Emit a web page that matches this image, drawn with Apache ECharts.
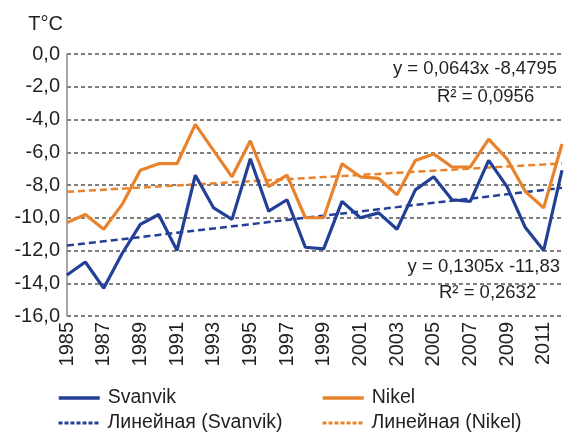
<!DOCTYPE html>
<html>
<head>
<meta charset="utf-8">
<script src="https://cdn.jsdelivr.net/npm/echarts@6/dist/echarts.min.js"></script>
<style>
  html, body { margin: 0; padding: 0; background: #fff; }
  #main { width: 568px; height: 432px; }
</style>
</head>
<body>
<div id="main"></div>
<script>
// years on the x axis
var years = ['1985','1986','1987','1988','1989','1990','1991','1992','1993','1994',
             '1995','1996','1997','1998','1999','2000','2001','2002','2003','2004',
             '2005','2006','2007','2008','2009','2010','2011','2012'];

// mean annual temperature
var svanvik = [-13.5,-12.7,-14.3,-12.2,-10.4,-9.8,-12.0,-7.4,-9.4,-10.1,
               -6.4,-9.6,-8.9,-11.8,-11.9,-9.0,-10.0,-9.7,-10.7,-8.3,
               -7.5,-8.9,-9.0,-6.5,-8.1,-10.6,-12.0,-7.1];
var nikel   = [-10.3,-9.8,-10.7,-9.2,-7.1,-6.7,-6.7,-4.3,-5.9,-7.5,
               -5.3,-8.1,-7.4,-10.0,-10.0,-6.7,-7.5,-7.6,-8.6,-6.5,
               -6.1,-6.9,-6.9,-5.2,-6.4,-8.4,-9.4,-5.5];

// linear trend coefficients as printed on the chart (x = 1..28)
var svanvikTrend = { slope: 0.1305, intercept: -11.83 };
var nikelTrend   = { slope: 0.0643, intercept: -8.4795 };

function trendLine(t) {
    return years.map(function (y, i) {
        return +(t.slope * (i + 1) + t.intercept).toFixed(3);
    });
}

var blue = '#233f96';
var orange = '#e9832b';
var textColor = '#231f20';
var font = 'Liberation Sans, Arial, sans-serif';

var myChart = echarts.init(document.getElementById('main'));

function legendAt(name, left, top, dashed) {
    return {
        left: left, top: top,
        itemWidth: 41, itemHeight: 10,
        itemStyle: { opacity: 0, borderWidth: 0 },
        lineStyle: dashed ? { width: 3, type: [4, 2] } : { width: 3.5 },
        textStyle: { fontSize: 19.5, color: textColor, padding: [0, 0, 0, 3] },
        data: [name]
    };
}

var option = {
    animation: false,
    backgroundColor: '#fff',
    textStyle: { fontFamily: font },
    grid: { left: 67, right: 6, top: 54, bottom: 116 },
    xAxis: {
        type: 'category',
        data: years,
        boundaryGap: false,
        axisLine: { show: false },
        axisTick: { show: false },
        axisLabel: {
            interval: 1,
            rotate: 90,
            margin: 6,
            fontSize: 20,
            color: textColor
        },
        splitLine: { show: false }
    },
    yAxis: {
        type: 'value',
        min: -16,
        max: 0,
        interval: 2,
        name: 'T°C',
        nameLocation: 'end',
        nameGap: 20,
        nameTextStyle: { fontSize: 20, color: textColor, align: 'right', padding: [0, 4, 0, 0] },
        axisLine: { show: true, lineStyle: { color: '#8a8a8a', width: 1.5 } },
        axisTick: { show: false },
        axisLabel: {
            fontSize: 20,
            margin: 7,
            color: textColor,
            formatter: function (v) { return v.toFixed(1).replace('.', ','); }
        },
        splitLine: { lineStyle: { color: '#7f7f7f', width: 2, type: [4, 3] } }
    },
    legend: [
        legendAt('Svanvik', 52, 383, false),
        legendAt('Линейная (Svanvik)', 52, 408, true),
        legendAt('Nikel', 316, 383, false),
        legendAt('Линейная (Nikel)', 316, 408, true)
    ],
    graphic: [
        { type: 'text', right: 11, top: 59, style: { text: 'y = 0,0643x -8,4795', fontSize: 18.5, fill: textColor, fontFamily: font } },
        { type: 'text', left: 437, top: 87, style: { text: 'R² = 0,0956', fontSize: 18.5, fill: textColor, fontFamily: font } },
        { type: 'text', right: 8, top: 257, style: { text: 'y = 0,1305x -11,83', fontSize: 18.5, fill: textColor, fontFamily: font } },
        { type: 'text', left: 439, top: 283, style: { text: 'R² = 0,2632', fontSize: 18.5, fill: textColor, fontFamily: font } }
    ],
    series: [
        {
            name: 'Svanvik', type: 'line', data: svanvik, symbol: 'none',
            lineStyle: { color: blue, width: 3.2 }, itemStyle: { color: blue }, z: 4
        },
        {
            name: 'Nikel', type: 'line', data: nikel, symbol: 'none',
            lineStyle: { color: orange, width: 3.2 }, itemStyle: { color: orange }, z: 3
        },
        {
            name: 'Линейная (Svanvik)', type: 'line', data: trendLine(svanvikTrend), symbol: 'none',
            lineStyle: { color: blue, width: 2.5, type: [7, 4] }, itemStyle: { color: blue }, z: 2
        },
        {
            name: 'Линейная (Nikel)', type: 'line', data: trendLine(nikelTrend), symbol: 'none',
            lineStyle: { color: orange, width: 2.5, type: [7, 4] }, itemStyle: { color: orange }, z: 2
        }
    ]
};

myChart.setOption(option);
</script>
</body>
</html>
